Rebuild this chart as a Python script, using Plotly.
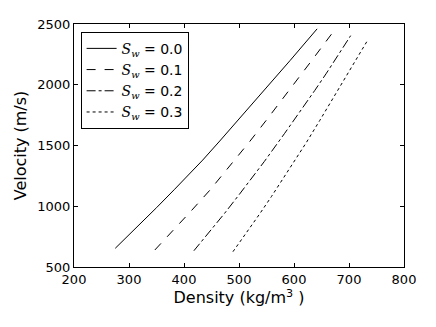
import plotly.graph_objects as go

# density (kg/m^3) and velocity (m/s), one pair per saturation
rho_s00 = [275, 313, 350, 383, 414, 434, 465, 501, 538, 574, 593, 642]
vel_s00 = [654, 821, 988, 1140, 1285, 1380, 1537, 1722, 1912, 2100, 2200, 2460]

rho_s01 = [347, 380, 413.5, 447, 477, 489, 519.5, 550, 580, 610, 632, 672]
vel_s01 = [640, 799, 964, 1132, 1295, 1361, 1533, 1710, 1886, 2065, 2198, 2440]

rho_s02 = [418, 447, 474, 501, 525.5, 546, 583, 610, 637.6, 659, 671, 703]
vel_s02 = [634, 791, 943, 1100, 1244, 1368, 1600, 1772, 1952, 2095, 2178, 2404]

rho_s03 = [489, 513.5, 537.6, 559, 598, 622.5, 646.7, 671, 692.7, 710, 734.5]
vel_s03 = [626, 780, 937, 1080, 1349, 1525, 1705, 1890, 2055, 2185, 2371]

sw_labels = ["0.0", "0.1", "0.2", "0.3"]

FONT = "DejaVu Sans"
SW = "<span style=\"font-family:'DejaVu Serif'\"><i>S</i><sub><i>w</i></sub></span>"

fig = go.Figure()
series = [
    (rho_s00, vel_s00, "solid"),
    (rho_s01, vel_s01, "dash"),
    (rho_s02, vel_s02, "dashdot"),
    (rho_s03, vel_s03, "dot"),
]
for (x, y, dash), lab in zip(series, sw_labels):
    fig.add_trace(
        go.Scatter(
            x=x,
            y=y,
            mode="lines",
            line=dict(color="black", width=1, dash=dash),
            name=f"{SW} = {lab}",
        )
    )

axis_common = dict(
    showline=True,
    linecolor="black",
    linewidth=1,
    mirror="ticks",
    ticks="inside",
    ticklen=4,
    tickcolor="black",
    showgrid=False,
    zeroline=False,
    automargin=False,
    tickfont=dict(family=FONT, size=13, color="black"),
)

fig.update_xaxes(
    range=[200, 800],
    tickvals=[200, 300, 400, 500, 600, 700, 800],
    title=dict(text="Density (kg/m<sup>3</sup> )", font=dict(family=FONT, size=16, color="black"), standoff=6),
    **axis_common,
)
fig.update_yaxes(
    range=[500, 2500],
    tickvals=[500, 1000, 1500, 2000, 2500],
    title=dict(text="Velocity (m/s)", font=dict(family=FONT, size=16, color="black"), standoff=6),
    **axis_common,
)

# the page body adds an 8px offset, so the figure is 8px smaller than the window
fig.update_layout(
    width=428,
    height=319,
    margin=dict(l=66, r=32, t=16, b=60),
    plot_bgcolor="white",
    paper_bgcolor="white",
    font=dict(family=FONT, color="black"),
    showlegend=True,
    legend=dict(
        x=0.02,
        y=0.968,
        xanchor="left",
        yanchor="top",
        bgcolor="white",
        bordercolor="black",
        borderwidth=1,
        itemwidth=30,
        font=dict(family=FONT, size=14, color="black"),
        tracegroupgap=0,
    ),
)

fig.write_html("out.html")
